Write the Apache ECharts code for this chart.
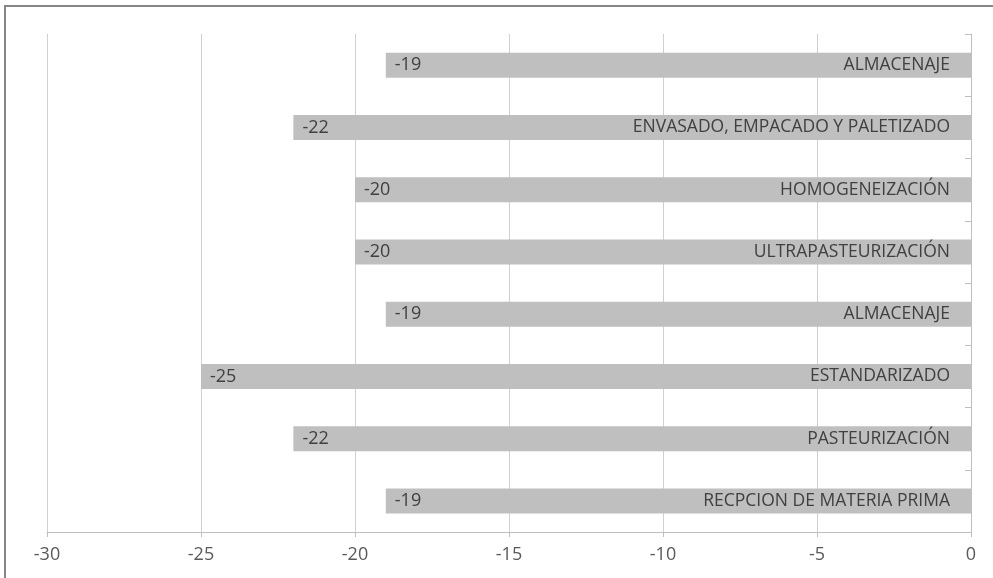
<!DOCTYPE html>
<html>
<head>
<meta charset="utf-8">
<script src="https://cdn.jsdelivr.net/npm/echarts@6/dist/echarts.min.js"></script>
<style>
html,body{margin:0;padding:0;background:#fff;}
#chart{width:993px;height:578px;}
</style>
</head>
<body>
<div id="chart"></div>
<script>
// bottom to top
var categories=['RECPCION DE MATERIA PRIMA','PASTEURIZACIÓN','ESTANDARIZADO','ALMACENAJE','ULTRAPASTEURIZACIÓN','HOMOGENEIZACIÓN','ENVASADO, EMPACADO Y PALETIZADO','ALMACENAJE'];
var values=[-19,-22,-25,-19,-20,-20,-22,-19];

var chart=echarts.init(document.getElementById('chart'));
var fontFam='"Open Sans", "Liberation Sans", sans-serif';
var option={
    animation:false,
    graphic:[{
        type:'rect',
        shape:{x:5,y:6,width:1000,height:600},
        style:{fill:'none',stroke:'#868686',lineWidth:2},
        silent:true
    }],
    grid:{left:47,right:22,top:34,bottom:46},
    xAxis:{
        type:'value',
        min:-30,max:0,interval:5,
        axisLine:{show:true,lineStyle:{color:'#bfbfbf'}},
        axisTick:{show:true,length:5,lineStyle:{color:'#bfbfbf'}},
        splitLine:{show:true,lineStyle:{color:'#d0d0d0'}},
        axisLabel:{color:'#595959',fontSize:18,fontFamily:fontFam,margin:14}
    },
    yAxis:{
        type:'category',
        position:'right',
        data:categories,
        axisLine:{show:true,lineStyle:{color:'#bfbfbf'}},
        axisTick:{show:true,inside:true,length:6,lineStyle:{color:'#bfbfbf'}},
        axisLabel:{show:false}
    },
    series:[
        {
            type:'bar',
            data:values,
            barWidth:25,
            itemStyle:{color:'#bfbfbf'},
            label:{
                show:true,position:'insideLeft',distance:9,
                color:'#404040',fontSize:18,fontFamily:fontFam
            }
        },
        {
            type:'bar',
            data:values,
            barWidth:25,
            barGap:'-100%',
            itemStyle:{color:'rgba(0,0,0,0)'},
            label:{
                show:true,position:'insideRight',distance:21,
                color:'#404040',fontSize:17.5,fontFamily:fontFam,
                formatter:function(p){return categories[p.dataIndex];}
            }
        }
    ]
};
chart.setOption(option);
</script>
</body>
</html>
